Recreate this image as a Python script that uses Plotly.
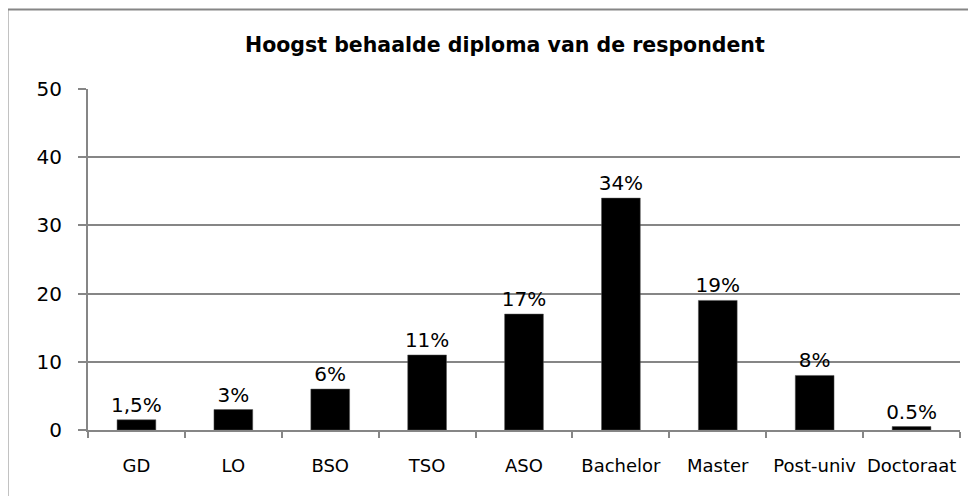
import plotly.graph_objects as go

categories = ["GD", "LO", "BSO", "TSO", "ASO", "Bachelor", "Master", "Post-univ", "Doctoraat"]
values = [1.5, 3, 6, 11, 17, 34, 19, 8, 0.5]
labels = ["1,5%", "3%", "6%", "11%", "17%", "34%", "19%", "8%", "0.5%"]
y_ticks = [0, 10, 20, 30, 40, 50]
title_text = "Hoogst behaalde diploma van de respondent"

GRAY = "#868686"
OFF = 8  # page body margin
W, H = 976 - OFF, 496 - OFF
L, R, T, B = 88 - OFF, 16, 89 - OFF, 66
pw, ph = W - L - R, H - T - B

def px_x(x):
    return (x - OFF - L) / pw

def px_y(y):
    return (H - B - (y - OFF)) / ph

fig = go.Figure()
fig.add_trace(go.Bar(
    x=categories, y=values, text=labels,
    textposition="outside", cliponaxis=False, constraintext="none",
    textfont=dict(family="DejaVu Sans", size=20, color="black"),
    marker=dict(color="black", line=dict(color="#555555", width=0.5)),
    hoverinfo="x+y",
))

fig.update_layout(
    width=W, height=H,
    margin=dict(l=L, r=R, t=T, b=B, pad=0, autoexpand=False),
    paper_bgcolor="white", plot_bgcolor="white",
    bargap=0.6, showlegend=False,
    xaxis=dict(
        showline=True, linecolor=GRAY, linewidth=2,
        ticks="outside", tickson="boundaries", ticklen=6, tickcolor=GRAY, tickwidth=2,
        tickfont=dict(family="DejaVu Sans", size=18, color="black"),
        ticklabelstandoff=18, tickangle=0, automargin=False,
        showgrid=False, zeroline=False,
    ),
    yaxis=dict(
        range=[0, 50], tickvals=y_ticks,
        showline=True, linecolor=GRAY, linewidth=2,
        ticks="outside", ticklen=8, tickcolor=GRAY, tickwidth=2,
        tickfont=dict(family="DejaVu Sans", size=20, color="black"),
        ticklabelstandoff=12, automargin=False,
        showgrid=True, gridcolor=GRAY, gridwidth=2,
        zeroline=False,
    ),
    annotations=[dict(
        text="<b>" + title_text + "</b>", showarrow=False,
        xref="paper", yref="paper", x=px_x(505), y=px_y(45),
        xanchor="center", yanchor="middle",
        font=dict(family="DejaVu Sans", size=20.5, color="black"),
    )],
    shapes=[dict(
        type="rect", xref="paper", yref="paper",
        x0=px_x(7.5), x1=px_x(985), y0=px_y(505), y1=px_y(9.5),
        line=dict(color=GRAY, width=2), fillcolor="rgba(0,0,0,0)", layer="below",
    )],
)

fig.write_html("out.html")
